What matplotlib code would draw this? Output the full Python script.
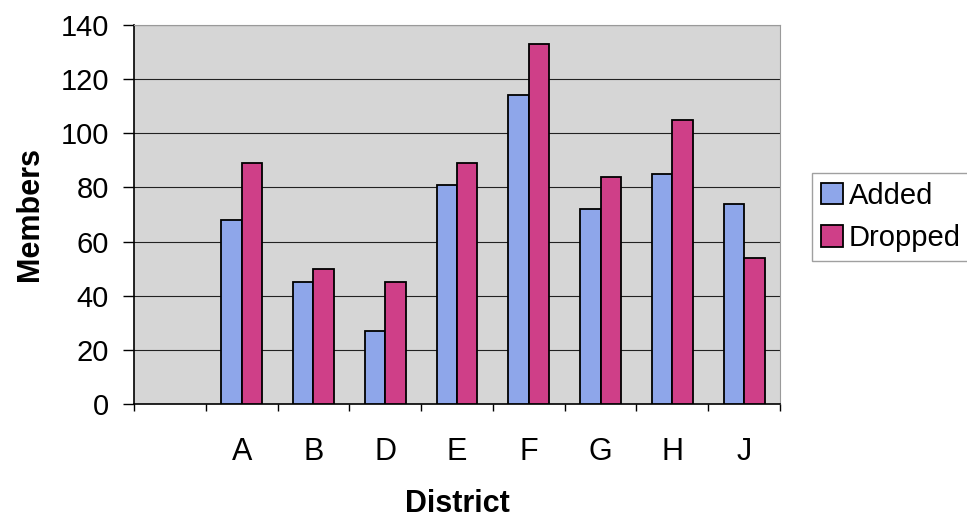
import numpy as np
import matplotlib
matplotlib.use("Agg")
import matplotlib.pyplot as plt

# ── data ──────────────────────────────────────────────
districts = ["A", "B", "D", "E", "F", "G", "H", "J"]
added     = [68, 45, 27, 81, 114, 72, 85, 74]
dropped   = [89, 50, 45, 89, 133, 84, 105, 54]
yticks    = [0, 20, 40, 60, 80, 100, 120, 140]

plt.rcParams["font.family"] = ["Liberation Sans", "DejaVu Sans"]

fig = plt.figure(figsize=(9.67, 5.19), dpi=100)
fig.patch.set_facecolor("white")
ax = fig.add_axes([0.1386, 0.2216, 0.668, 0.7303])
ax.set_facecolor("#D6D6D6")

# one empty slot before A, like the original sheet
x = np.arange(len(districts)) + 1
w = 0.285
ax.bar(x - w / 2, added, width=w, color="#8EA6EA", edgecolor="black",
       linewidth=1.3, label="Added", zorder=3)
ax.bar(x + w / 2, dropped, width=w, color="#CF3F88", edgecolor="black",
       linewidth=1.3, label="Dropped", zorder=3)

ax.set_xlim(-0.5, len(districts) + 0.5)
ax.set_ylim(0, 140)
ax.set_yticks(yticks)
ax.grid(axis="y", color="#222222", linewidth=0.8, zorder=1)

# ticks between categories, labels centered
ax.set_xticks(np.arange(len(districts) + 2) - 0.5)
ax.set_xticklabels([])
ax.set_xticks(np.arange(len(districts) + 1), minor=True)
ax.set_xticklabels([""] + districts, minor=True)
ax.tick_params(axis="x", which="major", length=5, width=1, direction="out")
ax.tick_params(axis="x", which="minor", length=0, pad=24, labelsize=22)
ax.tick_params(axis="y", length=8, width=1, pad=10, labelsize=21)

ax.spines["left"].set_color("black")
ax.spines["left"].set_linewidth(1.2)
ax.spines["bottom"].set_color("black")
ax.spines["bottom"].set_linewidth(1.2)
ax.spines["top"].set_color("#9A9A9A")
ax.spines["right"].set_color("#9A9A9A")

ax.set_ylabel("Members", fontsize=22, fontweight="bold")
ax.yaxis.set_label_coords(-0.138, 0.5)
ax.set_xlabel("District", fontsize=22, fontweight="bold")
ax.xaxis.set_label_coords(0.5, -0.225)

leg = fig.legend(loc="upper left", bbox_to_anchor=(0.825, 0.695),
                 fontsize=21, frameon=True, fancybox=False,
                 edgecolor="#888888", handlelength=0.75, handleheight=0.75,
                 handletextpad=0.2, borderpad=0.3, labelspacing=0.5)
leg.get_frame().set_linewidth(1.0)

fig.savefig("out.png", dpi=100, facecolor="white")
